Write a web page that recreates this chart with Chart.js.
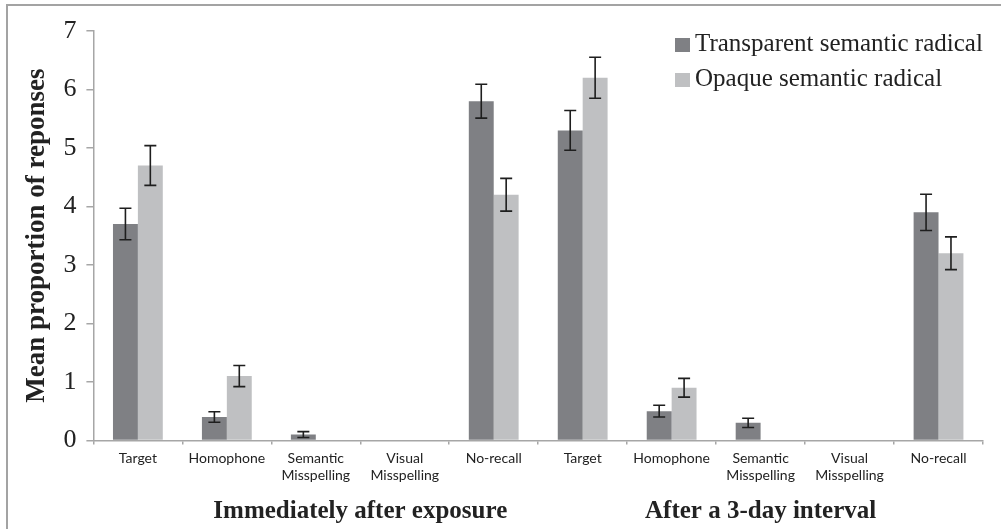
<!DOCTYPE html>
<html>
<head>
<meta charset="utf-8">
<script src="https://cdn.jsdelivr.net/npm/chart.js@4"></script>
<style>
  html, body { margin: 0; padding: 0; background: #fff; }
  #wrap { width: 1001px; height: 529px; }
</style>
</head>
<body>
<div id="wrap"><canvas id="chart"></canvas></div>
<script>
const categories = [
  "Target", "Homophone", ["Semantic", "Misspelling"], ["Visual", "Misspelling"], "No-recall",
  "Target", "Homophone", ["Semantic", "Misspelling"], ["Visual", "Misspelling"], "No-recall"
];
const transparent = [3.7, 0.4, 0.1, 0, 5.8, 5.3, 0.5, 0.3, 0, 3.9];
const transparentErr = [0.27, 0.09, 0.05, 0, 0.29, 0.34, 0.1, 0.08, 0, 0.31];
const opaque = [4.7, 1.1, 0, 0, 4.2, 6.2, 0.9, 0, 0, 3.2];
const opaqueErr = [0.34, 0.18, 0, 0, 0.28, 0.35, 0.16, 0, 0, 0.28];
const groups = [
  { label: "Immediately after exposure", from: 2, to: 3 },
  { label: "After a 3-day interval", from: 7, to: 7 }
];
const yTicks = [0, 1, 2, 3, 4, 5, 6, 7];

const serif = "'Liberation Serif', 'Times New Roman', serif";
const sans = "Lato, 'Open Sans', sans-serif";

// error bars, drawn from the y scale
const errorBars = {
  id: "errorBars",
  afterDatasetsDraw(chart) {
    const ctx = chart.ctx;
    const y = chart.scales.y;
    chart.data.datasets.forEach((ds, di) => {
      const meta = chart.getDatasetMeta(di);
      ds.errors.forEach((e, i) => {
        if (!e) return;
        const bar = meta.data[i];
        const v = ds.data[i];
        const top = y.getPixelForValue(v + e);
        const bot = y.getPixelForValue(v - e);
        ctx.save();
        ctx.strokeStyle = "#1e1e1e";
        ctx.lineWidth = 1.6;
        ctx.beginPath();
        ctx.moveTo(bar.x, top); ctx.lineTo(bar.x, bot);
        ctx.moveTo(bar.x - 6, top); ctx.lineTo(bar.x + 6, top);
        ctx.moveTo(bar.x - 6, bot); ctx.lineTo(bar.x + 6, bot);
        ctx.stroke();
        ctx.restore();
      });
    });
  }
};

// frame, legend and group labels
const extras = {
  id: "extras",
  afterDraw(chart) {
    const ctx = chart.ctx;
    const x = chart.scales.x;
    ctx.save();
    // outer frame (left and top edges only visible)
    ctx.strokeStyle = "#a3a3a3";
    ctx.lineWidth = 2;
    ctx.beginPath();
    ctx.moveTo(7, chart.height);
    ctx.lineTo(7, 5);
    ctx.lineTo(chart.width, 5);
    ctx.stroke();

    // legend
    ctx.font = "25px " + serif;
    ctx.textBaseline = "middle";
    ctx.textAlign = "left";
    chart.data.datasets.forEach((ds, i) => {
      const ly = 44 + i * 35;
      ctx.fillStyle = ds.backgroundColor;
      ctx.fillRect(675, ly - 6, 15, 14);
      ctx.fillStyle = "#222";
      ctx.fillText(ds.label, 695, ly);
    });

    // group labels
    ctx.font = "bold 25px " + serif;
    ctx.textAlign = "center";
    ctx.fillStyle = "#222";
    groups.forEach(g => {
      const cx = (x.getPixelForValue(g.from) + x.getPixelForValue(g.to)) / 2;
      ctx.fillText(g.label, cx, 512);
    });
    ctx.restore();
  }
};

new Chart(document.getElementById("chart"), {
  type: "bar",
  data: {
    labels: categories,
    datasets: [
      {
        label: "Transparent semantic radical",
        data: transparent,
        errors: transparentErr,
        backgroundColor: "#7f8084"
      },
      {
        label: "Opaque semantic radical",
        data: opaque,
        errors: opaqueErr,
        backgroundColor: "#bfc0c2"
      }
    ]
  },
  options: {
    responsive: true,
    maintainAspectRatio: false,
    animation: false,
    categoryPercentage: 0.56,
    barPercentage: 1,
    layout: { padding: { left: 21, right: 18, top: 31, bottom: 39 } },
    plugins: {
      legend: { display: false },
      tooltip: { enabled: false }
    },
    scales: {
      x: {
        grid: {
          offset: true,
          drawOnChartArea: false,
          drawTicks: true,
          tickLength: 4,
          color: "#a6a6a6",
          lineWidth: 1.5
        },
        border: { color: "#a6a6a6", width: 1.5 },
        ticks: {
          color: "#222",
          font: { family: sans, size: 14 },
          maxRotation: 0,
          autoSkip: false,
          padding: 6
        }
      },
      y: {
        min: 0,
        max: 7,
        afterBuildTicks: axis => { axis.ticks = yTicks.map(v => ({ value: v })); },
        grid: {
          drawOnChartArea: false,
          drawTicks: true,
          tickLength: 7,
          color: "#a6a6a6",
          lineWidth: 1.5
        },
        border: { color: "#a6a6a6", width: 1.5 },
        ticks: {
          color: "#222",
          font: { family: serif, size: 26 },
          padding: 10
        },
        title: {
          display: true,
          text: "Mean proportion of reponses",
          color: "#222",
          font: { family: serif, size: 27, weight: "bold" },
          padding: { top: 0, bottom: 0 }
        }
      }
    }
  },
  plugins: [errorBars, extras]
});
</script>
</body>
</html>
